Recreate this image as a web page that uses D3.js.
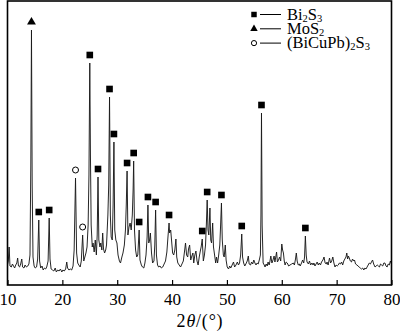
<!DOCTYPE html>
<html>
<head>
<meta charset="utf-8">
<script src="https://cdn.jsdelivr.net/npm/d3@7"></script>
<style>
  html, body { margin: 0; padding: 0; background: #fff; }
  svg { display: block; }
  text { font-family: "Liberation Serif", "Times New Roman", serif; fill: #000; }
</style>
</head>
<body>
<svg id="chart" width="400" height="332"></svg>
<script>
const twoTheta = [
10.0,10.15,10.3,10.45,10.7,10.9,11.1,11.3,11.5,11.7,11.85,12.0,12.2,12.4,12.6,12.75,13.0,13.2,13.45,13.7,13.9,
14.1,14.25,14.37,14.5,14.65,14.85,15.05,15.3,15.5,15.7,15.85,16.05,16.3,16.5,16.75,16.95,17.15,17.4,17.6,17.75,17.95,
18.2,18.45,18.7,18.9,19.15,19.4,19.65,19.9,20.1,20.35,20.6,20.8,20.95,21.2,21.45,21.7,21.95,22.15,22.4,22.6,22.8,
23.0,23.25,23.45,23.7,23.9,24.1,24.3,24.5,24.7,24.85,25.0,25.12,25.25,25.45,25.6,25.8,26.0,26.2,26.35,26.5,26.65,26.85,
27.0,27.2,27.35,27.5,27.7,27.9,28.05,28.3,28.45,28.6,28.75,28.9,29.1,29.25,29.4,29.55,29.75,29.95,30.15,30.4,30.6,30.85,
31.05,31.3,31.5,31.65,31.8,31.95,32.15,32.35,32.55,32.75,32.9,33.0,33.15,33.35,33.55,33.75,33.85,34.0,34.15,34.4,34.6,34.85,
35.05,35.25,35.45,35.6,35.75,35.9,36.05,36.25,36.45,36.7,36.85,37.0,37.15,37.35,37.55,37.8,38.05,38.3,38.55,38.8,
39.05,39.25,39.45,39.55,39.75,39.9,40.1,40.3,40.5,40.7,40.85,41.05,41.3,41.55,41.8,42.05,42.3,42.45,42.65,42.85,
43.0,43.2,43.4,43.55,43.8,43.95,44.15,44.35,44.55,44.75,44.95,45.15,45.3,45.5,45.7,45.9,46.1,46.25,46.4,46.55,46.7,46.9,
47.05,47.2,47.4,47.55,47.75,47.95,48.1,48.3,48.5,48.7,48.85,49.0,49.15,49.35,49.5,49.7,49.85,50.05,50.3,50.5,50.7,50.95,
51.2,51.4,51.65,51.9,52.1,52.3,52.5,52.7,52.85,53.05,53.25,53.45,53.7,53.9,54.05,54.3,54.5,54.7,54.9,55.1,55.3,55.5,55.7,55.9,
56.1,56.2,56.3,56.42,56.6,56.8,56.95,57.15,57.35,57.5,57.7,57.85,58.0,58.2,58.4,58.6,58.75,58.9,59.05,59.2,59.4,59.6,59.8,
60.0,60.15,60.3,60.45,60.6,60.8,61.0,61.25,61.5,61.8,62.1,62.3,62.5,62.65,62.8,63.0,63.2,63.35,63.6,63.8,64.0,64.15,64.3,
64.45,64.6,64.85,65.05,65.25,65.5,65.7,65.85,66.05,66.25,66.45,66.65,66.85,67.05,67.25,67.5,67.7,67.9,68.1,68.25,68.45,
68.7,68.9,69.1,69.3,69.5,69.7,69.9,70.1,70.3,70.5,70.7,70.9,71.1,71.3,71.5,71.7,71.85,72.0,72.15,72.3,72.5,72.7,72.9,
73.1,73.25,73.45,73.7,73.9,74.1,74.3,74.55,74.75,74.95,75.15,75.35,75.55,75.75,75.95,76.15,76.35,76.55,76.75,77.0,77.2,
77.4,77.6,77.8,78.0,78.2,78.4,78.6,78.8,79.0,79.2,79.4,79.6,79.8,80.0
];
const intensity = [
20,24,38,19,18,21,19,17,20,22,27,19,18,21,26,18,17,20,18,19,21,
30,120,255,100,28,19,17,18,26,65,24,17,19,15,17,16,18,24,67,26,16,
15,14,17,13,15,14,16,13,15,14,16,23,17,15,16,15,19,35,107,32,22,
20,18,24,50,24,28,32,38,60,110,222,130,60,38,42,33,45,30,50,108,45,38,
42,35,52,36,32,35,40,70,100,188,70,48,45,80,143,55,45,42,30,24,22,28,
32,40,55,80,114,50,58,62,55,70,95,124,55,35,28,30,40,55,25,20,18,17,
22,30,48,80,42,45,52,32,22,24,40,75,30,20,18,19,17,18,21,24,
33,48,62,52,55,45,32,30,35,46,28,22,20,18,21,24,35,42,30,28,
36,40,25,28,32,22,30,34,24,20,28,34,38,46,24,30,40,60,85,55,50,77,
45,42,62,38,30,22,28,22,30,40,60,82,45,30,28,40,25,18,16,19,17,20,
23,18,20,23,20,22,30,51,28,22,19,21,24,29,21,20,23,21,25,22,20,22,21,25,
30,70,172,60,22,20,18,21,19,23,20,24,29,22,25,29,23,28,33,23,25,28,24,
41,35,32,24,20,23,22,19,20,21,22,20,26,32,24,20,21,19,22,25,22,28,49,
30,23,21,24,20,22,20,22,19,21,23,20,22,20,23,25,28,22,21,23,20,
27,22,24,28,22,18,20,19,20,22,21,23,20,24,26,28,32,26,29,27,24,23,26,
24,25,21,20,19,18,17,16,17,15,17,16,18,20,22,21,23,25,21,18,19,
20,19,18,21,20,19,22,22,19,18,21,20,24,21
];
const xTicks = [10, 20, 30, 40, 50, 60, 70, 80];
const bi2s3Peaks = [15.7, 17.6, 25.0, 26.5, 28.6, 29.4, 31.8, 33.0, 34.0, 35.6, 37.0, 39.45, 45.5, 46.4, 49.0, 52.7, 56.3, 64.3];
const mos2Peaks = [14.37];
const bicupbPeaks = [22.4, 23.7];
const legendLabels = [
  {parts: [["Bi",""],["2","sub"],["S",""],["3","sub"]], sym: "square"},
  {parts: [["MoS",""],["2","sub"]], sym: "triangle"},
  {parts: [["(BiCuPb)",""],["2","sub"],["S",""],["3","sub"]], sym: "circle"}
];

// ---- drawing ----
const svg = d3.select("#chart");
const x = d3.scaleLinear().domain([10, 80]).range([7.5, 391.5]);
const y = d3.scaleLinear().domain([0, 284]).range([285, 1]);

const pts = twoTheta.map((t, i) => [t, intensity[i]]);

svg.append("path")
  .datum(pts)
  .attr("fill", "none")
  .attr("stroke", "#1a1a1a")
  .attr("stroke-width", 0.95)
  .attr("stroke-linejoin", "round")
  .attr("d", d3.line().x(d => x(d[0])).y(d => y(d[1])));

// axis
const axis = d3.axisBottom(x).tickValues(xTicks).tickSize(-5).tickPadding(8).tickFormat(d3.format("d"));
const gAxis = svg.append("g").attr("transform", "translate(0,285)").call(axis);
gAxis.select(".domain").remove();
gAxis.selectAll(".tick line").attr("stroke", "#000").attr("stroke-width", 1.2);
gAxis.selectAll(".tick text").attr("font-family", "Liberation Serif, serif").attr("font-size", 17).attr("fill", "#000");

// frame
svg.append("rect")
  .attr("x", x(10)).attr("y", y(284))
  .attr("width", x(80) - x(10)).attr("height", y(0) - y(284))
  .attr("fill", "none").attr("stroke", "#000").attr("stroke-width", 1.6);

// markers
function peakTop(a) {
  let best = 0;
  twoTheta.forEach((t, i) => { if (Math.abs(t - a) <= 0.13) best = Math.max(best, intensity[i]); });
  return best;
}
const off = 8;
const sq = d3.symbol().type(d3.symbolSquare).size(44);
const tri = d3.symbol().type(d3.symbolTriangle).size(34);

svg.append("g").selectAll("path").data(bi2s3Peaks).join("path")
  .attr("d", sq)
  .attr("transform", d => `translate(${x(d)},${y(peakTop(d)) - off})`)
  .attr("fill", "#000");
svg.append("g").selectAll("path").data(mos2Peaks).join("path")
  .attr("d", tri)
  .attr("transform", d => `translate(${x(d)},${y(peakTop(d)) - off})`)
  .attr("fill", "#000");
svg.append("g").selectAll("circle").data(bicupbPeaks).join("circle")
  .attr("cx", d => x(d)).attr("cy", d => y(peakTop(d)) - off).attr("r", 3)
  .attr("fill", "#fff").attr("stroke", "#000").attr("stroke-width", 1);

// legend
const lg = svg.append("g").attr("transform", "translate(254,14.5)");
legendLabels.forEach((item, i) => {
  const row = lg.append("g").attr("transform", `translate(0,${i * 14.3})`);
  if (item.sym === "square") row.append("path").attr("d", d3.symbol().type(d3.symbolSquare).size(30)).attr("fill", "#000");
  else if (item.sym === "triangle") row.append("path").attr("d", d3.symbol().type(d3.symbolTriangle).size(24)).attr("fill", "#000");
  else row.append("circle").attr("r", 2.6).attr("fill", "#fff").attr("stroke", "#000").attr("stroke-width", 1);
  row.append("line").attr("x1", 6).attr("x2", 27).attr("y1", 0).attr("y2", 0).attr("stroke", "#000").attr("stroke-width", 1);
  const t = row.append("text").attr("x", 33).attr("y", 5).attr("font-size", 16.5);
  let wasSub = false;
  item.parts.forEach(p => {
    const ts = t.append("tspan").text(p[0]);
    if (p[1] === "sub") { ts.attr("font-size", 10.5).attr("dy", 2); wasSub = true; }
    else if (wasSub) { ts.attr("dy", -2); wasSub = false; }
  });
});

// x title
const title = svg.append("text").attr("x", 200).attr("y", 327).attr("text-anchor", "middle")
  .attr("font-size", 18).attr("letter-spacing", 0.8);
title.append("tspan").text("2");
title.append("tspan").attr("font-style", "italic").text("θ");
title.append("tspan").text("/(°)");
</script>
</body>
</html>
